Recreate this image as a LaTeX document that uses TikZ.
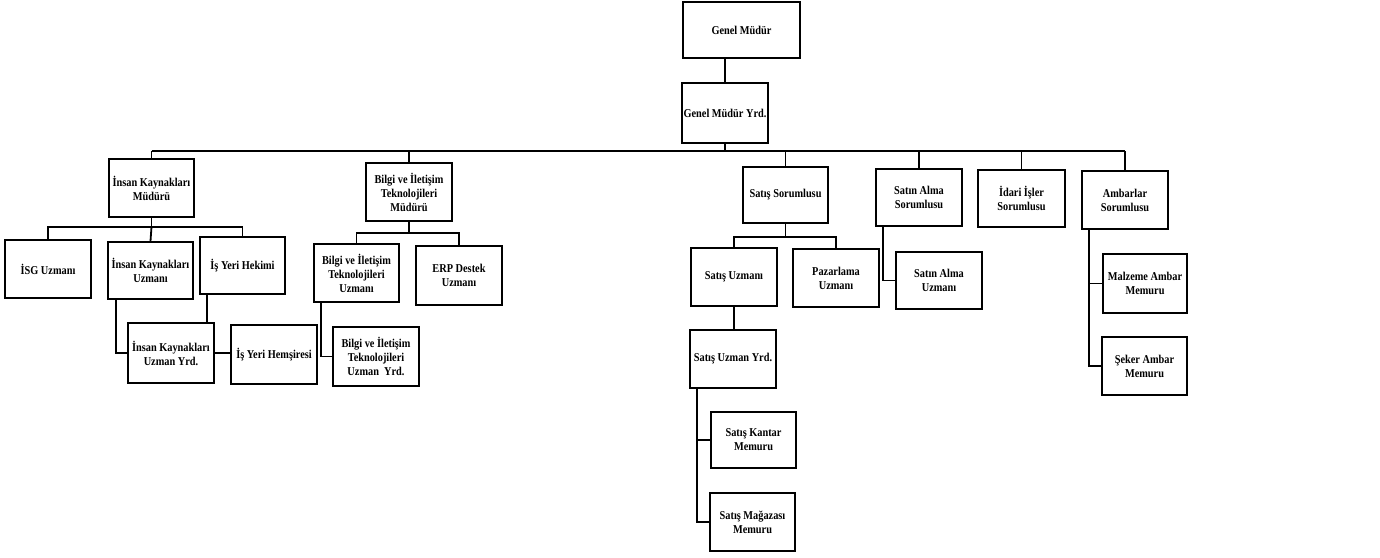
\documentclass[tikz,border=0pt]{standalone}
\usepackage{fontspec}
\setmainfont[FakeStretch=0.86]{Liberation Serif}
\begin{document}
\begin{tikzpicture}[x=1pt,y=-1pt,
  box/.style={draw,line width=1.8pt,rectangle,align=center,inner sep=1pt,
    font=\fontsize{12}{14}\selectfont\bfseries},
  ln/.style={line width=1.8pt}]
\useasboundingbox (0,0) rectangle (1380,557);
\fill[white] (0,0) rectangle (1380,557);
% level 0-1
\node[box,minimum width=117,minimum height=56] (gm) at (741.5,30) {Genel Müdür};
\node[box,minimum width=86,minimum height=60] (gmy) at (725,113) {Genel Müdür Yrd.};
% level 2
\node[box,minimum width=85,minimum height=58] (ikm) at (151.5,188) {İnsan Kaynakları\\Müdürü};
\node[box,minimum width=86,minimum height=58] (bim) at (409,192) {Bilgi ve İletişim\\Teknolojileri\\Müdürü};
\node[box,minimum width=85,minimum height=56] (ss) at (785.5,195) {Satış Sorumlusu};
\node[box,minimum width=86,minimum height=57] (sas) at (919,197.5) {Satın Alma\\Sorumlusu};
\node[box,minimum width=87,minimum height=57] (ida) at (1021.5,198.5) {İdari İşler\\Sorumlusu};
\node[box,minimum width=86,minimum height=58] (ams) at (1125,200) {Ambarlar\\Sorumlusu};
% level 3
\node[box,minimum width=86,minimum height=58] (isg) at (48,269) {İSG Uzmanı};
\node[box,minimum width=85,minimum height=57] (iku) at (150.5,270.5) {İnsan Kaynakları\\Uzmanı};
\node[box,minimum width=85,minimum height=57] (hek) at (242.5,265.5) {İş Yeri Hekimi};
\node[box,minimum width=86,minimum height=60] (ikuy) at (171,353) {İnsan Kaynakları\\Uzman Yrd.};
\node[box,minimum width=86,minimum height=59] (hem) at (274,354.5) {İş Yeri Hemşiresi};
\node[box,minimum width=85,minimum height=58] (biu) at (356.5,273) {Bilgi ve İletişim\\Teknolojileri\\Uzmanı};
\node[box,minimum width=86,minimum height=59] (erp) at (459,275.5) {ERP Destek\\Uzmanı};
\node[box,minimum width=86,minimum height=59] (biuy) at (376,356.5) {Bilgi ve İletişim\\Teknolojileri\\Uzman\ \ Yrd.};
\node[box,minimum width=86,minimum height=58] (su) at (734,277) {Satış Uzmanı};
\node[box,minimum width=86,minimum height=58] (pz) at (836,278) {Pazarlama\\Uzmanı};
\node[box,minimum width=86,minimum height=58] (suy) at (733,359) {Satış Uzman Yrd.};
\node[box,minimum width=85,minimum height=56] (kan) at (753.5,440) {Satış Kantar\\Memuru};
\node[box,minimum width=85,minimum height=58] (mag) at (752.5,522) {Satış Mağazası\\Memuru};
\node[box,minimum width=86,minimum height=57] (sau) at (939,280.5) {Satın Alma\\Uzmanı};
\node[box,minimum width=84,minimum height=59] (mal) at (1145,283.5) {Malzeme Ambar\\Memuru};
\node[box,minimum width=85,minimum height=58] (sek) at (1144.5,366) {Şeker Ambar\\Memuru};
% bus coordinates
\coordinate (bus) at (0,151);
\coordinate (ikb) at (0,227);
\coordinate (bib) at (0,233);
\coordinate (sb) at (0,237);
% connectors
\draw[ln] (gmy.north) -- (gmy.north |- gm.south);
\draw[ln] (gmy.south) -- (gmy.south |- bus);
\draw[ln] (ikm.north |- bus) -- (ams.north |- bus);
\foreach \n in {ikm,bim,ss,sas,ida,ams} \draw[ln] (\n.north) -- (\n.north |- bus);
% IK
\draw[ln] (ikm.south) -- (ikm.south |- ikb);
\draw[ln] (isg.north) -- (isg.north |- ikb) -- (hek.north |- ikb) -- (hek.north);
\draw[ln] (ikm.south |- ikb) -- (iku.north);
\draw[ln] ([xshift=9]iku.south west) |- (ikuy.west);
\draw[ln] ([xshift=8]hek.south west) -- ([xshift=8]hek.south west |- ikuy.north);
\draw[ln] (ikuy.east) -- (ikuy.east -| hem.west);
% Bilgi
\draw[ln] (bim.south) -- (bim.south |- bib);
\draw[ln] (biu.north) -- (biu.north |- bib) -- (erp.north |- bib) -- (erp.north);
\draw[ln] ([xshift=8]biu.south west) |- (biuy.west);
% Satis
\draw[ln] (ss.south) -- (ss.south |- sb);
\draw[ln] (su.north) -- (su.north |- sb) -- (pz.north |- sb) -- (pz.north);
\draw[ln] (su.south) -- (su.south |- suy.north);
\draw[ln] ([xshift=8]suy.south west) |- (kan.west);
\draw[ln] ([xshift=8]suy.south west) |- (mag.west);
% Satin Alma
\draw[ln] ([xshift=8]sas.south west) |- (sau.west);
% Ambarlar
\draw[ln] ([xshift=8]ams.south west) |- (mal.west);
\draw[ln] ([xshift=8]ams.south west) |- (sek.west);
\end{tikzpicture}
\end{document}
